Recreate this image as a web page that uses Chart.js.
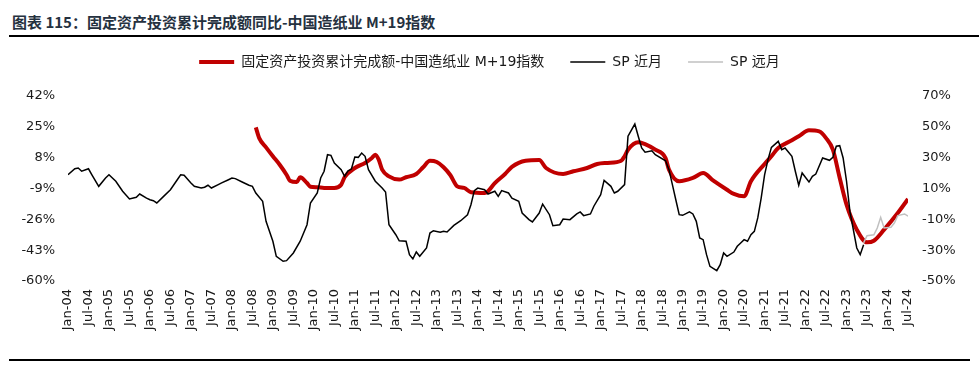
<!DOCTYPE html>
<html>
<head>
<meta charset="utf-8">
<script src="https://cdn.jsdelivr.net/npm/chart.js@4.4.1/dist/chart.umd.min.js"></script>
<style>
  html, body { margin: 0; padding: 0; background: #fff; width: 979px; height: 369px; overflow: hidden; position: relative; }
  #title { position: absolute; left: 12px; top: 11px; font: bold 15px "Noto Sans CJK SC", sans-serif; color: #25313f; white-space: nowrap; }
  #topRule { position: absolute; left: 9px; top: 35px; width: 970px; height: 2px; background: #000; }
  #bottomRule { position: absolute; left: 9px; top: 359px; width: 961px; height: 2px; background: #000; }
  #wrap { position: absolute; left: 0; top: 29px; }
</style>
</head>
<body>
<div id="title">图表 115：固定资产投资累计完成额同比-中国造纸业 M+19指数</div>
<div id="topRule"></div>
<div id="wrap"><canvas id="chart" width="979" height="340"></canvas></div>
<div id="bottomRule"></div>

<script>
// x = months since Jan-04
const xTickLabels = [];
for (let y = 4; y <= 24; y++) {
  const yy = String(y).padStart(2, "0");
  xTickLabels.push("Jan-" + yy, "Jul-" + yy);
}
const leftTicks = [-60, -43, -26, -9, 8, 25, 42];
const rightTicks = [-50, -30, -10, 10, 30, 50, 70];

// 固定资产投资累计完成额-中国造纸业 M+19 (left axis)
const faiMonths = [55, 56, 58, 60, 62, 64, 65, 67, 68, 70, 71, 73, 75, 78, 80, 81, 84, 87, 89, 90, 91, 92, 94, 97, 99,
  102, 104, 106, 108, 110, 112, 114, 116, 118, 122, 123, 125, 128, 130, 134, 138, 140, 145, 148, 152, 155, 158,
  162, 163, 164, 167, 169, 172, 175, 176, 179, 183, 186, 189, 193, 195, 198, 200, 204, 206, 208, 212, 214, 217,
  220, 222, 224, 226, 228, 231, 234, 236, 239, 243, 246];
const faiValues = [24.7, 18.8, 13.7, 8.8, 4.1, -1.4, -4.7, -5.4, -2.8, -6, -8, -8.3, -8.7, -8.7, -6.9, -2.8, 2.3, 5.1, 7.8, 9.6, 6.9, 1.4, -2.3, -4.1, -2.8,
  -1, 2.7, 6.3, 5.6, 2.7, -1.7, -7.8, -8.7, -11.1, -11.5, -10.5, -6, -1, 2.9, 6.3, 6.7, 2.3, -1, 0.5, 2.3, 4.5, 5.1,
  6.3, 8.8, 12.4, 16.5, 15.5, 12.4, 7.8, 1.4, -5, -3.2, -0.5, -4.7, -9.7, -12, -13.3, -5, 4.5, 8.8, 13.3, 17.6, 19.8, 23.1,
  22.5, 18.8, 12.4, -3.2, -17.9, -31.7, -38.7, -37.8, -31.7, -22.5, -14.8];

// SP 近月 (right axis)
const nearMonths = [0, 2, 3, 4, 6, 7, 9, 11, 12, 14, 16, 18, 20, 21, 23, 24, 25, 26, 28, 30, 32, 33, 34, 36, 37, 39, 40, 41, 42,
  44, 45, 47, 48, 49, 51, 53, 54, 55, 57, 58, 60, 61, 63, 64, 66, 68, 70, 71, 73, 74, 75, 76, 77, 78, 80, 81, 82, 83, 84, 85,
  86, 87, 88, 90, 92, 93, 94, 96, 97, 99, 100, 101, 102, 103, 105, 106, 107, 109, 110, 111, 113, 115, 117, 118, 119, 120,
  122, 123, 125, 126, 127, 129, 130, 132, 133, 135, 136, 138, 139, 141, 142, 144, 145, 147, 149, 150, 151, 153, 154, 156,
  157, 159, 160, 161, 163, 164, 166, 167, 168, 169, 171, 172, 175, 176, 177, 178, 179, 180, 182, 183, 184, 185, 186, 187,
  188, 190, 191, 192, 193, 195, 196, 197, 198, 199, 200, 201, 202, 203, 204, 205, 206, 208, 209, 210, 212, 213, 214, 215,
  217, 218, 219, 221, 223, 224, 225, 226, 227, 228, 229, 231, 232, 233];
const nearValues = [18.9, 22.8, 23.3, 21.2, 22.8, 18.9, 11.4, 16.8, 18.9, 14.7, 8.2, 3.2, 4.3, 6.4, 3.8, 2.7, 2.1, 0.6, 4.9, 9.2, 15.7, 18.9, 18.6, 13.6, 11.4, 10.3, 10.8, 12.1, 10.3,
  12.5, 13.6, 15.7, 16.8, 16.4, 14.2, 12.1, 11.4, 7.1, 1.7, -11.3, -24.2, -34, -37.2, -36.8, -31.8, -24.2, -13.5, 0.6, 7.1, 16.8, 21.2, 31.9, 31.5, 26.5, 22.2, 17.9, 21.5, 22.6, 30.4, 30.2,
  33, 30.9, 22.2, 14.7, 10.3, 7.7, -13.5, -20, -23.9, -24.2, -32.9, -35.7, -31.2, -34, -28.6, -18.9, -17.4, -18.4, -17.8, -18.2, -13.9, -10.9, -7, -0.5, 8.6, 10.3,
  9.2, 6.4, 8.2, 4.9, 8.6, 7.1, 3.8, 1.7, -5.9, -10.2, -11.7, -5.9, -0.1, -7, -14.1, -13.5, -9.8, -10.2, -6.5, -5.2, -7.6, -6.5, -1.5, 6,
  15.3, 11.4, 7.1, 8.2, 12.5, 43.9, 51.8, 43.9, 36.3, 33.5, 34.5, 31.9, 28, 22.2, 12.5, 2.7, -7, -7.4, -5.2, -6.5, -11.3, -22.1, -23.2, -32.9,
  -40.5, -43.3, -39.4, -31.8, -34, -31.2, -27.5, -25.3, -23.2, -24.2, -20, -17.8, -9.1, 3.8, 18.9, 28.7, 36.7, 40.6, 35.2, 36.3, 30.9, 21.2, 12.1, 20.1,
  14.2, 17.9, 19.4, 29.8, 28.3, 30.2, 37.4, 37.8, 29.8, 14.7, -5, -28.6, -32.9, -26.5];

// SP 远月 (right axis)
const farMonths = [233, 234, 236, 237, 238, 239, 241, 242, 243, 245, 246];
const farValues = [-25.3, -20.6, -20, -15.6, -8.7, -15.6, -15.2, -12.4, -7.6, -6.5, -8];

function toPoints(months, values) {
  return months.map((m, i) => ({ x: m, y: values[i] }));
}

const tickFont = { family: "DejaVu Sans", size: 13 };

// legend box takes a fixed height so the plot area starts where the reference does
const legendHeight = {
  id: "legendHeight",
  beforeInit(chart) {
    const fit = chart.legend.fit;
    chart.legend.fit = function () {
      fit.bind(chart.legend)();
      this.height = 67;
    };
  }
};

let ctx = document.getElementById("chart").getContext("2d");
let chart = new Chart(ctx, {
  type: "line",
  data: {
    datasets: [
      {
        label: "固定资产投资累计完成额-中国造纸业 M+19指数",
        data: toPoints(faiMonths, faiValues),
        yAxisID: "y",
        borderColor: "#c00000",
        backgroundColor: "#c00000",
        borderWidth: 4,
        pointRadius: 0,
        cubicInterpolationMode: "monotone",
        order: 2
      },
      {
        label: "SP 近月",
        data: toPoints(nearMonths, nearValues),
        yAxisID: "y1",
        borderColor: "#000000",
        backgroundColor: "#000000",
        borderWidth: 1.5,
        pointRadius: 0,
        tension: 0,
        order: 1
      },
      {
        label: "SP 远月",
        data: toPoints(farMonths, farValues),
        yAxisID: "y1",
        borderColor: "#c0c0c0",
        backgroundColor: "#c0c0c0",
        borderWidth: 1.5,
        pointRadius: 0,
        tension: 0,
        order: 0
      }
    ]
  },
  plugins: [legendHeight],
  options: {
    responsive: false,
    animation: false,
    layout: { padding: 0 },
    plugins: {
      tooltip: { enabled: false },
      legend: {
        position: "top",
        labels: {
          usePointStyle: true,
          pointStyle: "line",
          pointStyleWidth: 35,
          padding: 26,
          color: "#1a1a1a",
          font: { family: "DejaVu Sans, 'Noto Sans CJK SC'", size: 14 },
          sort: (a, b) => a.datasetIndex - b.datasetIndex
        }
      }
    },
    scales: {
      x: {
        type: "linear",
        min: 0,
        max: 246,
        grid: { display: false, drawTicks: false },
        border: { display: false },
        ticks: {
          stepSize: 6,
          autoSkip: false,
          minRotation: 90,
          maxRotation: 90,
          padding: 8,
          color: "#1a1a1a",
          font: tickFont,
          callback: (v) => xTickLabels[v / 6]
        },
        afterFit: (s) => { s.height = 88; }
      },
      y: {
        position: "left",
        min: leftTicks[0],
        max: leftTicks[leftTicks.length - 1],
        grid: { display: false, drawTicks: false },
        border: { display: false },
        ticks: { stepSize: 17, padding: 13, color: "#1a1a1a", font: tickFont, callback: (v) => v + "%" },
        afterFit: (s) => { s.width = 68; }
      },
      y1: {
        position: "right",
        min: rightTicks[0],
        max: rightTicks[rightTicks.length - 1],
        grid: { display: false, drawTicks: false },
        border: { display: false },
        ticks: { stepSize: 20, padding: 14, color: "#1a1a1a", font: tickFont, callback: (v) => v + "%" },
        afterFit: (s) => { s.width = 71; }
      }
    }
  }
});
</script>
</body>
</html>
